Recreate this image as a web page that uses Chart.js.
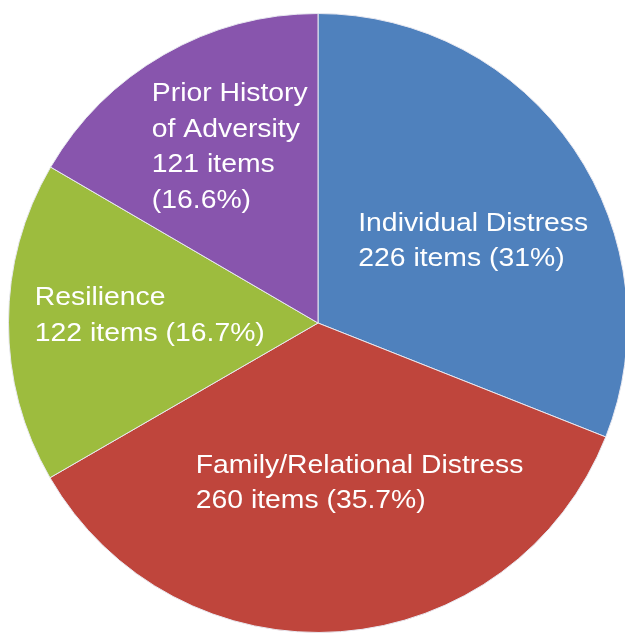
<!DOCTYPE html>
<html>
<head>
<meta charset="utf-8">
<script src="https://cdn.jsdelivr.net/npm/chart.js@4"></script>
<style>
html,body{margin:0;padding:0;background:#fff;overflow:hidden;width:625px;height:634px;}
#wrap{position:absolute;left:8px;top:13px;width:620px;height:620px;}
</style>
</head>
<body>
<div id="wrap"><canvas id="c" width="620" height="620"></canvas></div>
<script>
const categories = ["Individual Distress", "Family/Relational Distress", "Resilience", "Prior History of Adversity"];
const itemCounts = [226, 260, 122, 121];
const percentLabels = ["31%", "35.7%", "16.7%", "16.6%"];
const labelLines = [
  ["Individual Distress", "226 items (31%)"],
  ["Family/Relational Distress", "260 items (35.7%)"],
  ["Resilience", "122 items (16.7%)"],
  ["Prior History", "of Adversity", "121 items", "(16.6%)"]
];
const colors = ["#4f81bd", "#bf453c", "#9dbc3e", "#8855ad"];

// label anchor offsets (fraction of radius) relative to pie centre: left edge x, first-line centre y
const labelAnchors = [[0.13, -0.322], [-0.395, 0.46], [-0.915, -0.08], [-0.537, -0.74]];

const labelPlugin = {
  id: 'sliceLabels',
  afterDatasetsDraw(chart) {
    const ctx = chart.ctx;
    const meta = chart.getDatasetMeta(0);
    ctx.save();
    ctx.fillStyle = '#ffffff';
    ctx.font = '26px "Liberation Sans", Arial, sans-serif';
    ctx.textAlign = 'left';
    ctx.textBaseline = 'middle';
    meta.data.forEach((arc, i) => {
      const r = arc.outerRadius;
      const x = arc.x + labelAnchors[i][0] * r;
      let y = arc.y + labelAnchors[i][1] * r;
      labelLines[i].forEach(line => {
        ctx.save();
        ctx.translate(x, y);
        ctx.scale(1.09, 1);
        ctx.fillText(line, 0, 0);
        ctx.restore();
        y += 35.5;
      });
    });
    ctx.restore();
  }
};

new Chart(document.getElementById('c'), {
  type: 'pie',
  data: {
    labels: categories,
    datasets: [{
      data: itemCounts,
      backgroundColor: colors,
      borderColor: '#e8e8f0',
      borderWidth: 1
    }]
  },
  options: {
    responsive: false,
    animation: false,
    layout: { padding: 0 },
    plugins: { legend: { display: false }, tooltip: { enabled: false } }
  },
  plugins: [labelPlugin]
});
</script>
</body>
</html>
